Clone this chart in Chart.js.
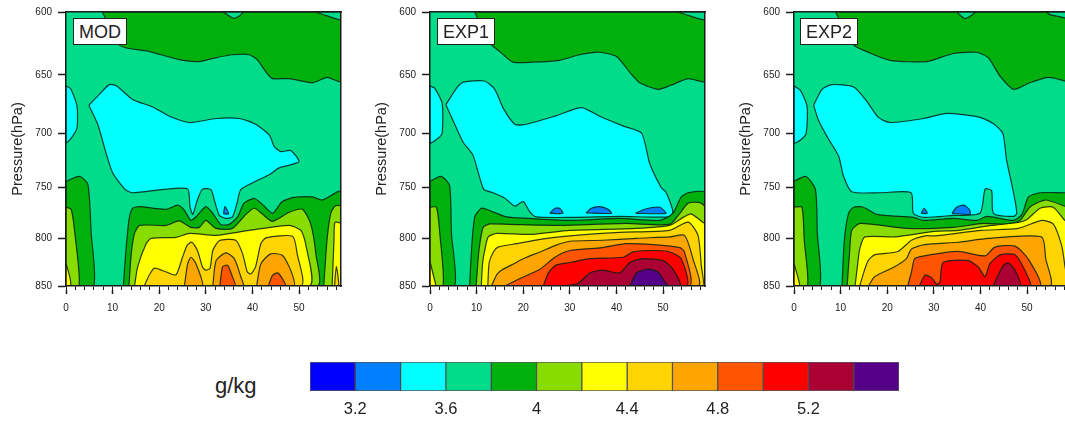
<!DOCTYPE html>
<html>
<head>
<meta charset="utf-8">
<script src="https://cdn.jsdelivr.net/npm/chart.js@4"></script>
<style>
  html, body { margin: 0; padding: 0; background: #fff; width: 1065px; height: 421px; overflow: hidden; }
  body { position: relative; font-family: "Liberation Sans", sans-serif; color: #222; }
  canvas { position: absolute; }
  .tag { position: absolute; top: 18px; height: 25px; line-height: 26px; padding: 0 5px; font-size: 18px;
         background: #fff; border: 1px solid #222; }
  #unit { position: absolute; left: 215px; top: 373px; font-size: 22px; line-height: 26px; }
</style>
</head>
<body>
<canvas id="panelMod" width="351" height="330" style="left:0;top:0"></canvas>
<canvas id="panelExp1" width="351" height="330" style="left:364px;top:0"></canvas>
<canvas id="panelExp2" width="351" height="330" style="left:728px;top:0"></canvas>
<canvas id="colorbar" width="610" height="71" style="left:300px;top:350px"></canvas>
<div class="tag" style="left:73px">MOD</div>
<div class="tag" style="left:437px">EXP1</div>
<div class="tag" style="left:800px">EXP2</div>
<div id="unit">g/kg</div>
<script>
const pressureTicks = [600, 650, 700, 750, 800, 850];
const xMajorTicks = [0, 10, 20, 30, 40, 50];
const xMinorTicks = [0, 2, 4, 6, 8, 10, 12, 14, 16, 18, 20, 22, 24, 26, 28, 30, 32, 34, 36, 38, 40, 42, 44, 46, 48, 50, 52, 54, 56, 58];
const barTicks = [3.2, 3.6, 4, 4.4, 4.8, 5.2];
const barEdges = [3.0, 3.2, 3.4, 3.6, 3.8, 4.0, 4.2, 4.4, 4.6, 4.8, 5.0, 5.2, 5.4, 5.6];
const barColors = ['#0000ff', '#0080ff', '#00ffff', '#00dc8a', '#00b00c', '#88dc00', '#ffff00', '#ffd400', '#ffa500', '#ff5500', '#ff0000', '#aa0033', '#550088'];
const BLUE2 = 1, CYAN = 2, TEAL = 3, GREEN = 4, LIME = 5, YELLOW = 6, GOLD = 7, ORANGE = 8, DARKORANGE = 9, RED = 10, MAROON = 11, PURPLE = 12;

const wholeDomain = [[0,600],[59,600],[59,850],[0,850]];

// MOD, contours as [x, pressure]
const modGreenTop = [[7.8,600],[11.5,626],[18,631],[24.3,637.5],[28.6,639],[32,636],[35.7,633.5],[39.3,633.5],[41,637.5],[43,648],[44.3,653],[47.9,653],[52.9,656.5],[56,652],[59,655],[59,600]];
const modTealTop1 = [[33.7,600],[35,603],[36,604.8],[37,603.5],[38,600]];
const modTealTop2 = [[53.6,600],[56,603],[59,606],[59,600]];
const modCyanLeft = [[0,659],[1,661.5],[2.35,676],[2.35,695.5],[1.1,704.5],[0,708.5]];
const modCyan = [[4.9,675.5],[7.2,666],[9.3,658],[10.8,659],[14.3,670.5],[18.6,677],[22.2,685],[26.5,690.5],[32.2,687],[37.2,687],[40.7,692],[43.6,701.5],[44.7,712],[46.1,716.5],[48.2,715.5],[50,725.5],[47.9,729],[45.7,731.5],[43.6,738],[40.7,744],[37.5,752],[36.7,765],[35.7,778.5],[34.3,780],[32.9,777],[31.8,761.7],[31.1,752],[29.3,751.5],[28.2,761.7],[27.2,776],[26.6,768.4],[26.1,751.5],[21.5,751.5],[14.3,755],[12.6,751.5],[10,736],[8.6,718],[6.8,692]];
const modBlue = [[33.8,775.5],[34.1,768.5],[34.9,775.5]];
const modGreenLow = [[12.3,850],[12.8,816],[13.5,782],[14.3,770],[15.8,768.4],[21.5,771],[24,767],[25.4,772],[26.8,782],[28.2,777],[30,768.4],[31.5,775],[33.2,786],[35,786],[36.8,778.5],[38.2,765],[40.4,760.5],[42.2,766.5],[44.3,775],[46.4,763.5],[48.9,759.5],[52.9,759],[55,762],[59,754],[59,850]];
const modGreenLeft = [[0,744],[2.9,739.5],[4.7,747],[5.4,795],[5.9,850],[0,850]];
const modLimeLeft = [[0,769],[1.1,771],[1.9,795],[2.8,850],[0,850]];
const modYellowLeft = [[0,826],[0.8,840],[1,850],[0,850]];
const modLime = [[13.5,850],[14,816],[14.7,795],[15.8,787],[21.5,787],[24.3,782.5],[26.8,789],[28.6,789],[30,782],[32.2,790],[35.7,790],[38.6,776],[40.4,770],[42.2,776],[44.3,783],[47.9,774],[50.7,771],[52.5,785.5],[53.6,816],[53.9,850]];
const modLimeRight = [[55.3,850],[56,802],[56.8,775],[57.8,767.5],[59,768.4],[59,850]];
const modYellowRight = [[57.1,850],[57.5,802],[57.7,784],[59,785.5],[59,850]];
const modGoldRight = [[57.6,850],[58,829],[58.5,850]];
const modYellow = [[14.7,850],[15.4,829],[17.2,805.5],[18.3,800],[23.6,799],[26.5,795],[32.2,797],[39.3,792],[47.9,787],[50.4,792],[51.4,805.5],[52.2,850]];
const modGold = [[16.8,850],[17.9,838],[19,831],[21.5,835],[23.6,838],[25,819.5],[26,807],[27,804],[28.2,812.5],[29.3,830],[30,833],[30.9,831],[31.5,812.5],[32.9,802.5],[36.4,802],[37.9,816],[38.9,835],[39.7,837],[40.7,829],[41.8,805.5],[42.9,799.5],[48.6,798],[49.6,816],[50.4,850]];
const modOrange1 = [[25.4,850],[26.1,826.5],[26.8,819.5],[27.9,826.5],[29.3,850]];
const modOrange2 = [[31.5,850],[32.2,823],[34.3,815],[36.1,821],[37.5,840],[38,850]];
const modOrange3 = [[40.9,850],[41.8,826.5],[43.9,816],[46.4,817.5],[48.2,833],[48.9,850]];
const modDark1 = [[33,850],[33.6,829.5],[34.7,828],[35.7,840],[36.3,850]];
const modDark2 = [[43.4,850],[44.3,838.5],[45.4,836],[46.4,842],[47.1,850]];

// EXP1
const exp1GreenTop = [[9.6,600],[12.8,624],[15,631],[17.8,639.5],[22.1,639.5],[27.8,638],[32.1,633.5],[36.4,631.5],[40,635],[42.9,648],[45,656.5],[48.9,662],[51.4,659],[55.4,653],[59,655],[59,600]];
const exp1TealTop = [[53.2,600],[55.7,603],[59,606],[59,600]];
const exp1CyanLeft = [[0,659],[1,661],[2.6,674],[2.6,700],[1.7,704.5],[0,708.5]];
const exp1Cyan = [[3.4,675],[5.7,661],[7.1,656],[11.7,655],[13.9,662],[15.7,678],[18.2,692],[20.7,692],[27.1,684.5],[32.5,677.5],[36.4,685],[41.4,693.5],[45.4,700],[47.1,727],[49.6,750],[50.7,755],[52.1,773],[51.4,778.5],[40.7,778],[30.7,779],[22.8,778.5],[21.4,773.5],[20,763.5],[18.2,768],[16,760],[13.5,755],[11.5,751.5],[9.2,719.5],[7.1,708],[5.3,692]];
const exp1Blue1 = [[25.7,775],[26.8,770],[27.8,770],[28.5,775]];
const exp1Blue2 = [[33.5,774.5],[34.6,770],[36.4,768.4],[38.2,771],[38.9,775]];
const exp1Blue3 = [[44.1,775],[46.4,770.5],[49.3,769],[50.6,775]];
const exp1GreenLow = [[8.5,850],[8.9,812.5],[9.6,778.5],[11,770],[12.4,771.5],[16.4,778.5],[21.4,780],[30.7,782],[40.7,780],[49.3,782],[52.1,775],[53.9,759],[55.4,755],[59,755],[59,850]];
const exp1GreenLeft = [[0,744],[2.4,739.5],[4.2,748],[4.6,795],[5.3,850],[0,850]];
const exp1LimeLeft = [[0,769],[1.4,769],[2.1,795],[2.8,850],[0,850]];
const exp1YellowLeft = [[0,824],[0.8,840],[1.2,850],[0,850]];
const exp1Lime = [[9.9,850],[10.5,812.5],[11.4,789],[12.8,785.5],[17.1,786],[27.8,787],[42.1,785],[51.4,786],[53.6,775],[55.4,765],[57.9,764.5],[59,769],[59,850]];
const exp1Yellow = [[11,850],[11.3,825],[11.8,811],[12.5,798.6],[14.3,795],[21.4,796],[30,792],[44.3,790],[51.4,787],[54.3,779],[56,775.5],[58.6,784],[59,785],[59,850]];
const exp1Gold = [[12.4,850],[12.7,825],[13.6,814],[14.6,809],[18.6,805.5],[23.6,801],[30,797.5],[40.7,794],[51.4,792],[55.4,783.7],[57.5,797],[58.2,828],[58.6,850]];
const exp1Orange = [[13.2,850],[14.3,838],[15.4,833],[17.9,826.5],[20,821],[23.6,814],[27.1,807],[30,803],[37,802],[44.3,800],[51.4,798.6],[54.6,797],[56.4,821],[57.5,850]];
const exp1Dark = [[16.1,850],[19.3,842],[23.6,832],[26.8,819.5],[30,812.5],[37,809.5],[42,805.5],[47.9,806.5],[53.6,809.5],[54.6,814],[55.6,850]];
const exp1Red = [[24.3,850],[25.4,836],[27.1,827.5],[30,825],[34.3,821],[41.4,819.5],[43.6,814],[47.9,812.5],[51.4,814],[53.9,821],[55,850]];
const exp1Maroon = [[29,850],[31.8,847],[34.3,836],[37,833],[40.7,836],[42.9,825],[45.7,821],[50,823],[52.1,832],[53.6,850]];
const exp1Purple = [[42.9,850],[44.3,836],[46.8,832],[48.9,835],[50.4,845.6],[51,850]];

// EXP2
const exp2GreenTop = [[8.9,600],[12.8,625.7],[15.6,631],[20.6,638],[28.5,639],[34.2,632.5],[39.2,631.5],[41.7,636],[44.2,651],[47.1,662],[50.6,656.5],[54.6,652],[58.1,655],[59,657],[59,600]];
const exp2TealTop1 = [[34.9,600],[36.7,605],[38.9,600]];
const exp2TealTop2 = [[54.2,600],[54.9,602],[58.1,604.5],[59,605],[59,600]];
const exp2CyanLeft = [[0,659],[1.4,663],[2.8,676.5],[2.6,700],[1.4,706],[0,708.5]];
const exp2Cyan = [[4.2,675.5],[6,662],[8.1,658],[12.8,660],[15.6,672],[18.1,686],[20.6,690.5],[27.8,687],[32.8,682.5],[39.9,686],[42.8,691.5],[44.8,700],[45.6,724],[47.1,755],[47.8,775],[47.1,778],[42.8,775],[42.4,753],[41,751.5],[39.9,775],[34.2,777],[27.8,779],[25.6,775],[25.1,755],[18.5,755],[12.4,754],[10.6,739],[9.6,721],[7.1,703],[5.3,689]];
const exp2Blue1 = [[27.3,775],[27.9,770],[28.6,775]];
const exp2Blue2 = [[33.9,775],[34.9,769],[36.4,767],[37.6,771],[37.8,776]];
const exp2GreenLow = [[10.3,850],[10.8,802],[11.7,775],[12.8,769],[14.9,769],[17.8,776],[25.6,779],[27.8,782],[34.2,780],[39.2,782],[41.4,778],[47.1,782],[48.9,776],[50.3,759],[52.8,755],[58.1,755],[59,755],[59,850]];
const exp2GreenLeft = [[0,744],[2.6,739.5],[4.6,752],[5,795],[5.5,850],[0,850]];
const exp2LimeLeft = [[0,769],[1.7,769],[2.2,802],[2.9,850],[0,850]];
const exp2YellowLeft = [[0,826],[0.8,840],[1.2,850],[0,850]];
const exp2Lime = [[11.4,850],[11.9,816],[12.4,792],[14.2,785],[24.2,790],[34.2,789],[40.6,785],[46.4,786],[48.5,782],[50.6,769],[53.9,762],[58.1,768],[59,770],[59,850]];
const exp2Yellow = [[13.1,850],[13.8,821],[14.1,811],[15.2,798.6],[21.6,798.6],[30.2,793],[35.2,792],[42.4,787],[48.1,784],[50,781],[52.8,770],[55.6,769],[58.1,782],[59,785],[59,850]];
const exp2Gold = [[14.1,850],[14.8,838],[15.9,823],[17.3,817],[22.3,813.5],[25.2,802],[28.1,797.5],[30.2,797.5],[40.2,792],[48.1,790],[53.1,782],[55.6,785.5],[57.4,807],[58.1,828],[58.6,850]];
const exp2Orange = [[16,850],[17.3,840],[21.6,829.5],[24.1,821],[25.2,811],[28,806.5],[35.2,804],[41.7,800],[53.1,798.6],[54,821],[54.9,850]];
const exp2Dark = [[24.4,850],[25.2,835],[25.9,821],[28,818],[35.2,813.5],[41,818],[43.1,809],[47.4,808],[50.2,821],[52.7,850]];
const exp2Red = [[26.9,850],[28.1,838.5],[29.5,841],[30.6,848],[31.3,846],[32,825],[37.4,823],[39.5,829.5],[41,840],[42,826.5],[44.2,817],[47.4,817],[49.5,833],[50.6,850]];
const exp2Maroon = [[42.7,850],[44.9,828],[46,825.5],[47.4,833],[48.5,850]];

// painted in this order, later ones on top
const modLayers = [[TEAL,wholeDomain],[GREEN,modGreenTop],[TEAL,modTealTop1],[TEAL,modTealTop2],[CYAN,modCyanLeft],[CYAN,modCyan],[BLUE2,modBlue],[GREEN,modGreenLow],[GREEN,modGreenLeft],[LIME,modLimeLeft],[YELLOW,modYellowLeft],[LIME,modLime],[LIME,modLimeRight],[YELLOW,modYellowRight],[GOLD,modGoldRight],[YELLOW,modYellow],[GOLD,modGold],[ORANGE,modOrange1],[ORANGE,modOrange2],[ORANGE,modOrange3],[DARKORANGE,modDark1],[DARKORANGE,modDark2]];
const exp1Layers = [[TEAL,wholeDomain],[GREEN,exp1GreenTop],[TEAL,exp1TealTop],[CYAN,exp1CyanLeft],[CYAN,exp1Cyan],[BLUE2,exp1Blue1],[BLUE2,exp1Blue2],[BLUE2,exp1Blue3],[GREEN,exp1GreenLow],[GREEN,exp1GreenLeft],[LIME,exp1LimeLeft],[YELLOW,exp1YellowLeft],[LIME,exp1Lime],[YELLOW,exp1Yellow],[GOLD,exp1Gold],[ORANGE,exp1Orange],[DARKORANGE,exp1Dark],[RED,exp1Red],[MAROON,exp1Maroon],[PURPLE,exp1Purple]];
const exp2Layers = [[TEAL,wholeDomain],[GREEN,exp2GreenTop],[TEAL,exp2TealTop1],[TEAL,exp2TealTop2],[CYAN,exp2CyanLeft],[CYAN,exp2Cyan],[BLUE2,exp2Blue1],[BLUE2,exp2Blue2],[GREEN,exp2GreenLow],[GREEN,exp2GreenLeft],[LIME,exp2LimeLeft],[YELLOW,exp2YellowLeft],[LIME,exp2Lime],[YELLOW,exp2Yellow],[GOLD,exp2Gold],[ORANGE,exp2Orange],[DARKORANGE,exp2Dark],[RED,exp2Red],[MAROON,exp2Maroon]];

const axisColor = '#1c1c1c';
const tickFont = { family: '"Liberation Sans", sans-serif', size: 10 };

function setTicks(list) {
  return function (scale) { scale.ticks = list.map(v => ({ value: v })); };
}

function drawPanel(id, layers) {
  new Chart(document.getElementById(id), {
    type: 'scatter',
    data: {
      datasets: layers.map((layer, i) => ({
        data: layer[1].concat([layer[1][0]]),
        order: -i,
        showLine: true,
        fill: 'shape',
        backgroundColor: barColors[layer[0]],
        borderColor: i === 0 ? 'transparent' : 'rgba(10,30,20,0.85)',
        borderWidth: 1.2,
        tension: i === 0 ? 0 : 0.22,
        pointRadius: 0,
        clip: 0
      }))
    },
    options: {
      responsive: false,
      animation: false,
      events: [],
      layout: { padding: { top: 11, right: 10, left: 0, bottom: 0 } },
      plugins: { legend: { display: false }, tooltip: { enabled: false } },
      scales: {
        x: {
          type: 'linear', position: 'bottom', min: 0, max: 59, weight: 0,
          afterBuildTicks: setTicks(xMinorTicks),
          afterFit: s => { s.height = 4; },
          grid: { drawOnChartArea: false, tickLength: 4, tickColor: axisColor, tickWidth: 1 },
          border: { color: axisColor, width: 1.5, z: 2 },
          ticks: { display: false }
        },
        xMajor: {
          type: 'linear', position: 'bottom', min: 0, max: 59, weight: 1,
          afterBuildTicks: setTicks(xMajorTicks),
          afterFit: s => { s.height = 40; },
          grid: { drawOnChartArea: false, tickLength: 4, tickColor: axisColor, tickWidth: 1.5 },
          border: { display: false },
          ticks: { font: tickFont, color: '#222', padding: 8, maxRotation: 0, autoSkip: false }
        },
        xTop: {
          type: 'linear', position: 'top', min: 0, max: 59,
          afterFit: s => { s.height = 0; },
          grid: { display: false },
          border: { color: axisColor, width: 1.5, z: 2 },
          ticks: { display: false }
        },
        y: {
          type: 'logarithmic', position: 'left', reverse: true, min: 600, max: 850,
          afterBuildTicks: setTicks(pressureTicks),
          afterFit: s => { s.width = 66; },
          grid: { drawOnChartArea: false, tickLength: 8, tickColor: axisColor, tickWidth: 1.5 },
          border: { color: axisColor, width: 1.5, z: 2 },
          ticks: { font: tickFont, color: '#222', padding: 6, autoSkip: false, callback: v => String(v) },
          title: { display: true, text: 'Pressure(hPa)', color: '#222', padding: { top: 9, bottom: 0 },
                   font: { family: '"Liberation Sans", sans-serif', size: 14.5 } }
        },
        yRight: {
          type: 'linear', position: 'right', min: 0, max: 1,
          afterFit: s => { s.width = 0; },
          grid: { display: false },
          border: { color: axisColor, width: 1.5, z: 2 },
          ticks: { display: false }
        }
      }
    }
  });
}

drawPanel('panelMod', modLayers);
drawPanel('panelExp1', exp1Layers);
drawPanel('panelExp2', exp2Layers);

new Chart(document.getElementById('colorbar'), {
  type: 'bar',
  data: {
    labels: ['g/kg'],
    datasets: barColors.map((c, i) => ({
      data: [[barEdges[i], barEdges[i + 1]]],
      backgroundColor: c,
      borderColor: 'rgba(20,20,20,0.7)',
      borderWidth: 1,
      borderSkipped: false,
      grouped: false,
      barPercentage: 1,
      categoryPercentage: 1
    }))
  },
  options: {
    indexAxis: 'y',
    responsive: false,
    animation: false,
    events: [],
    layout: { padding: { top: 12, left: 10, right: 11, bottom: 0 } },
    plugins: { legend: { display: false }, tooltip: { enabled: false } },
    scales: {
      y: { display: false },
      x: {
        type: 'linear', min: 3.0, max: 5.6,
        afterBuildTicks: setTicks(barTicks),
        afterFit: s => { s.height = 30; },
        grid: { display: false, drawTicks: false },
        border: { display: false },
        ticks: { font: { family: '"Liberation Sans", sans-serif', size: 16.5 }, color: '#222', padding: 9, maxRotation: 0, autoSkip: false, callback: v => String(v) }
      }
    }
  }
});
</script>
</body>
</html>
